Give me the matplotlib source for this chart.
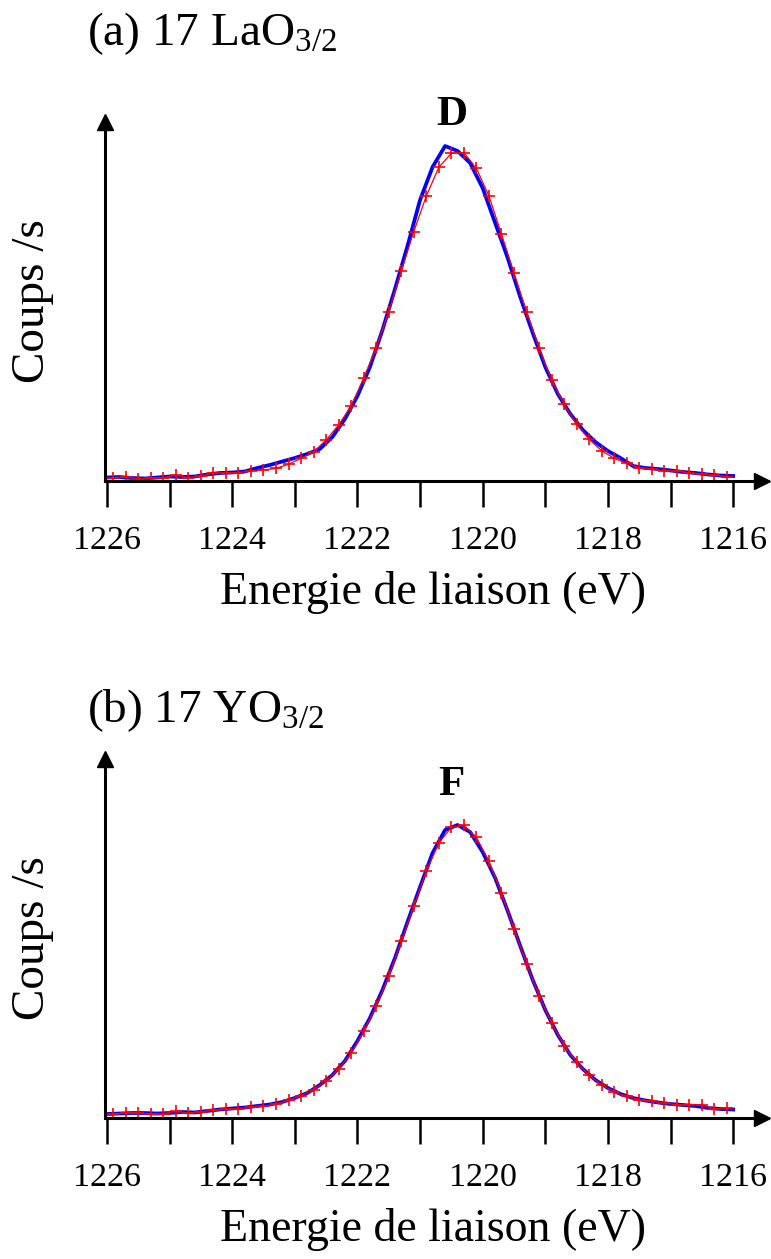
import numpy as np
import matplotlib
matplotlib.use('Agg')
import matplotlib.pyplot as plt

plt.rcParams['font.family'] = ['Liberation Serif', 'DejaVu Serif']
plt.rcParams['mathtext.fontset'] = 'custom'
plt.rcParams['mathtext.rm'] = 'Liberation Serif'
plt.rcParams['mathtext.default'] = 'regular'

# binding energy grids (eV): red = fit points, blue = measured spectrum
red_energy = np.round(np.arange(1225.9, 1216.0, -0.2), 1)
blue_energy = np.round(np.arange(1226.0, 1215.9, -0.2), 1)

# (a) 17 LaO3/2 - intensity in arbitrary units
a_red = [3.3, 4.3, 2.0, 3.3, 3.3, 6.0, 3.3, 5.3, 7.7, 8.3,
         8.3, 10.3, 11.0, 12.7, 16.7, 22.7, 29.0, 41.0, 56.0, 75.0,
         102.7, 133.3, 169.3, 210.0, 249.3, 285.0, 313.7, 327.7, 328.3, 312.7,
         285.0, 247.0, 207.7, 169.3, 132.7, 101.0, 76.7, 56.7, 41.7, 30.3,
         22.7, 17.7, 13.3, 12.0, 10.3, 10.0, 8.3, 7.0, 6.0, 4.3]
a_blue = [3.5, 4.0, 3.0, 2.5, 3.5, 4.5, 4.0, 4.5, 6.5, 8.0,
          8.5, 9.5, 13.0, 16.0, 19.5, 23.0, 27.0, 32.0, 44.0, 62.0,
          85.0, 114.0, 151.0, 192.0, 235.0, 281.0, 314.0, 335.0, 330.0, 318.0,
          293.0, 258.0, 223.0, 184.0, 148.0, 114.0, 87.0, 67.0, 51.0, 39.0,
          30.0, 23.0, 15.0, 13.0, 12.0, 10.5, 9.0, 8.0, 6.5, 5.5, 5.0]

# (b) 17 YO3/2
b_red = [4.0, 5.0, 5.0, 4.3, 4.3, 6.7, 5.0, 6.3, 7.7, 9.0,
         9.3, 10.7, 11.7, 14.0, 17.7, 22.3, 28.3, 37.3, 49.0, 65.0,
         86.7, 111.7, 141.7, 176.7, 211.7, 247.3, 275.0, 290.7, 292.7, 280.7,
         256.7, 225.0, 189.0, 154.3, 122.3, 95.0, 72.3, 55.7, 42.7, 33.3,
         26.0, 21.7, 18.3, 16.7, 15.0, 13.3, 13.3, 13.3, 9.0, 10.0]
b_blue = [4.0, 4.5, 5.0, 5.0, 4.5, 5.0, 6.0, 5.5, 7.0, 8.5,
          9.5, 10.5, 12.0, 13.5, 16.0, 20.0, 25.0, 33.0, 43.0, 57.0,
          77.0, 100.0, 128.0, 160.0, 196.0, 231.0, 265.0, 288.0, 293.0, 286.0,
          266.0, 240.0, 207.0, 172.0, 138.0, 108.0, 83.0, 63.0, 49.0, 38.0,
          30.0, 24.0, 20.0, 17.5, 15.5, 14.0, 13.0, 12.0, 10.0, 9.0, 8.5]

tick_pos = [1226, 1225, 1224, 1223, 1222, 1221, 1220, 1219, 1218, 1217, 1216]
tick_labels = ['1226', '', '1224', '', '1222', '', '1220', '', '1218', '', '1216']

W, H = 771, 1259


def draw_panel(ax, red_vals, blue_vals, peak_name, peak_y):
    ax.plot(blue_energy, blue_vals, color='#0000ff', lw=2.7, solid_joinstyle='round')
    ax.plot(red_energy, red_vals, color='#ff0000', lw=0.9, marker='+', ms=8.5, mew=1.2)
    ax.set_xlim(1226.03, 1215.54)
    ax.set_ylim(0, 359)
    ax.spines['top'].set_visible(False)
    ax.spines['right'].set_visible(False)
    ax.spines['left'].set_linewidth(2.2)
    ax.spines['bottom'].set_linewidth(2.2)
    ax.set_yticks([])
    ax.set_xticks(tick_pos, tick_labels)
    ax.tick_params(axis='x', direction='out', length=19, width=1.8, pad=13, labelsize=24.5)
    # arrow heads on the axes
    ax.plot(1, 0, '>k', ms=12, transform=ax.transAxes, clip_on=False)
    ax.plot(0, 1, '^k', ms=12, transform=ax.transAxes, clip_on=False)
    ax.set_xlabel('Energie de liaison (eV)', fontsize=33, labelpad=11)
    ax.set_ylabel('Coups /s', fontsize=34, labelpad=37)
    ax.text(1220.5, peak_y, peak_name, ha='center', va='baseline',
            fontsize=31, fontweight='bold')


fig = plt.figure(figsize=(W / 100, H / 100), dpi=100)

ax1 = fig.add_axes([105 / W, 1 - 481 / H, 657 / W, 359 / H])
draw_panel(ax1, a_red, a_blue, 'D', 356)
fig.text(87 / W, 1 - 45 / H, r'(a) 17 LaO$_{3/2}$', fontsize=34, va='baseline')

ax2 = fig.add_axes([105 / W, 1 - 1118 / H, 657 / W, 359 / H])
draw_panel(ax2, b_red, b_blue, 'F', 323)
fig.text(87 / W, 1 - 722 / H, r'(b) 17 YO$_{3/2}$', fontsize=34, va='baseline')

fig.savefig('out.png', dpi=100)
